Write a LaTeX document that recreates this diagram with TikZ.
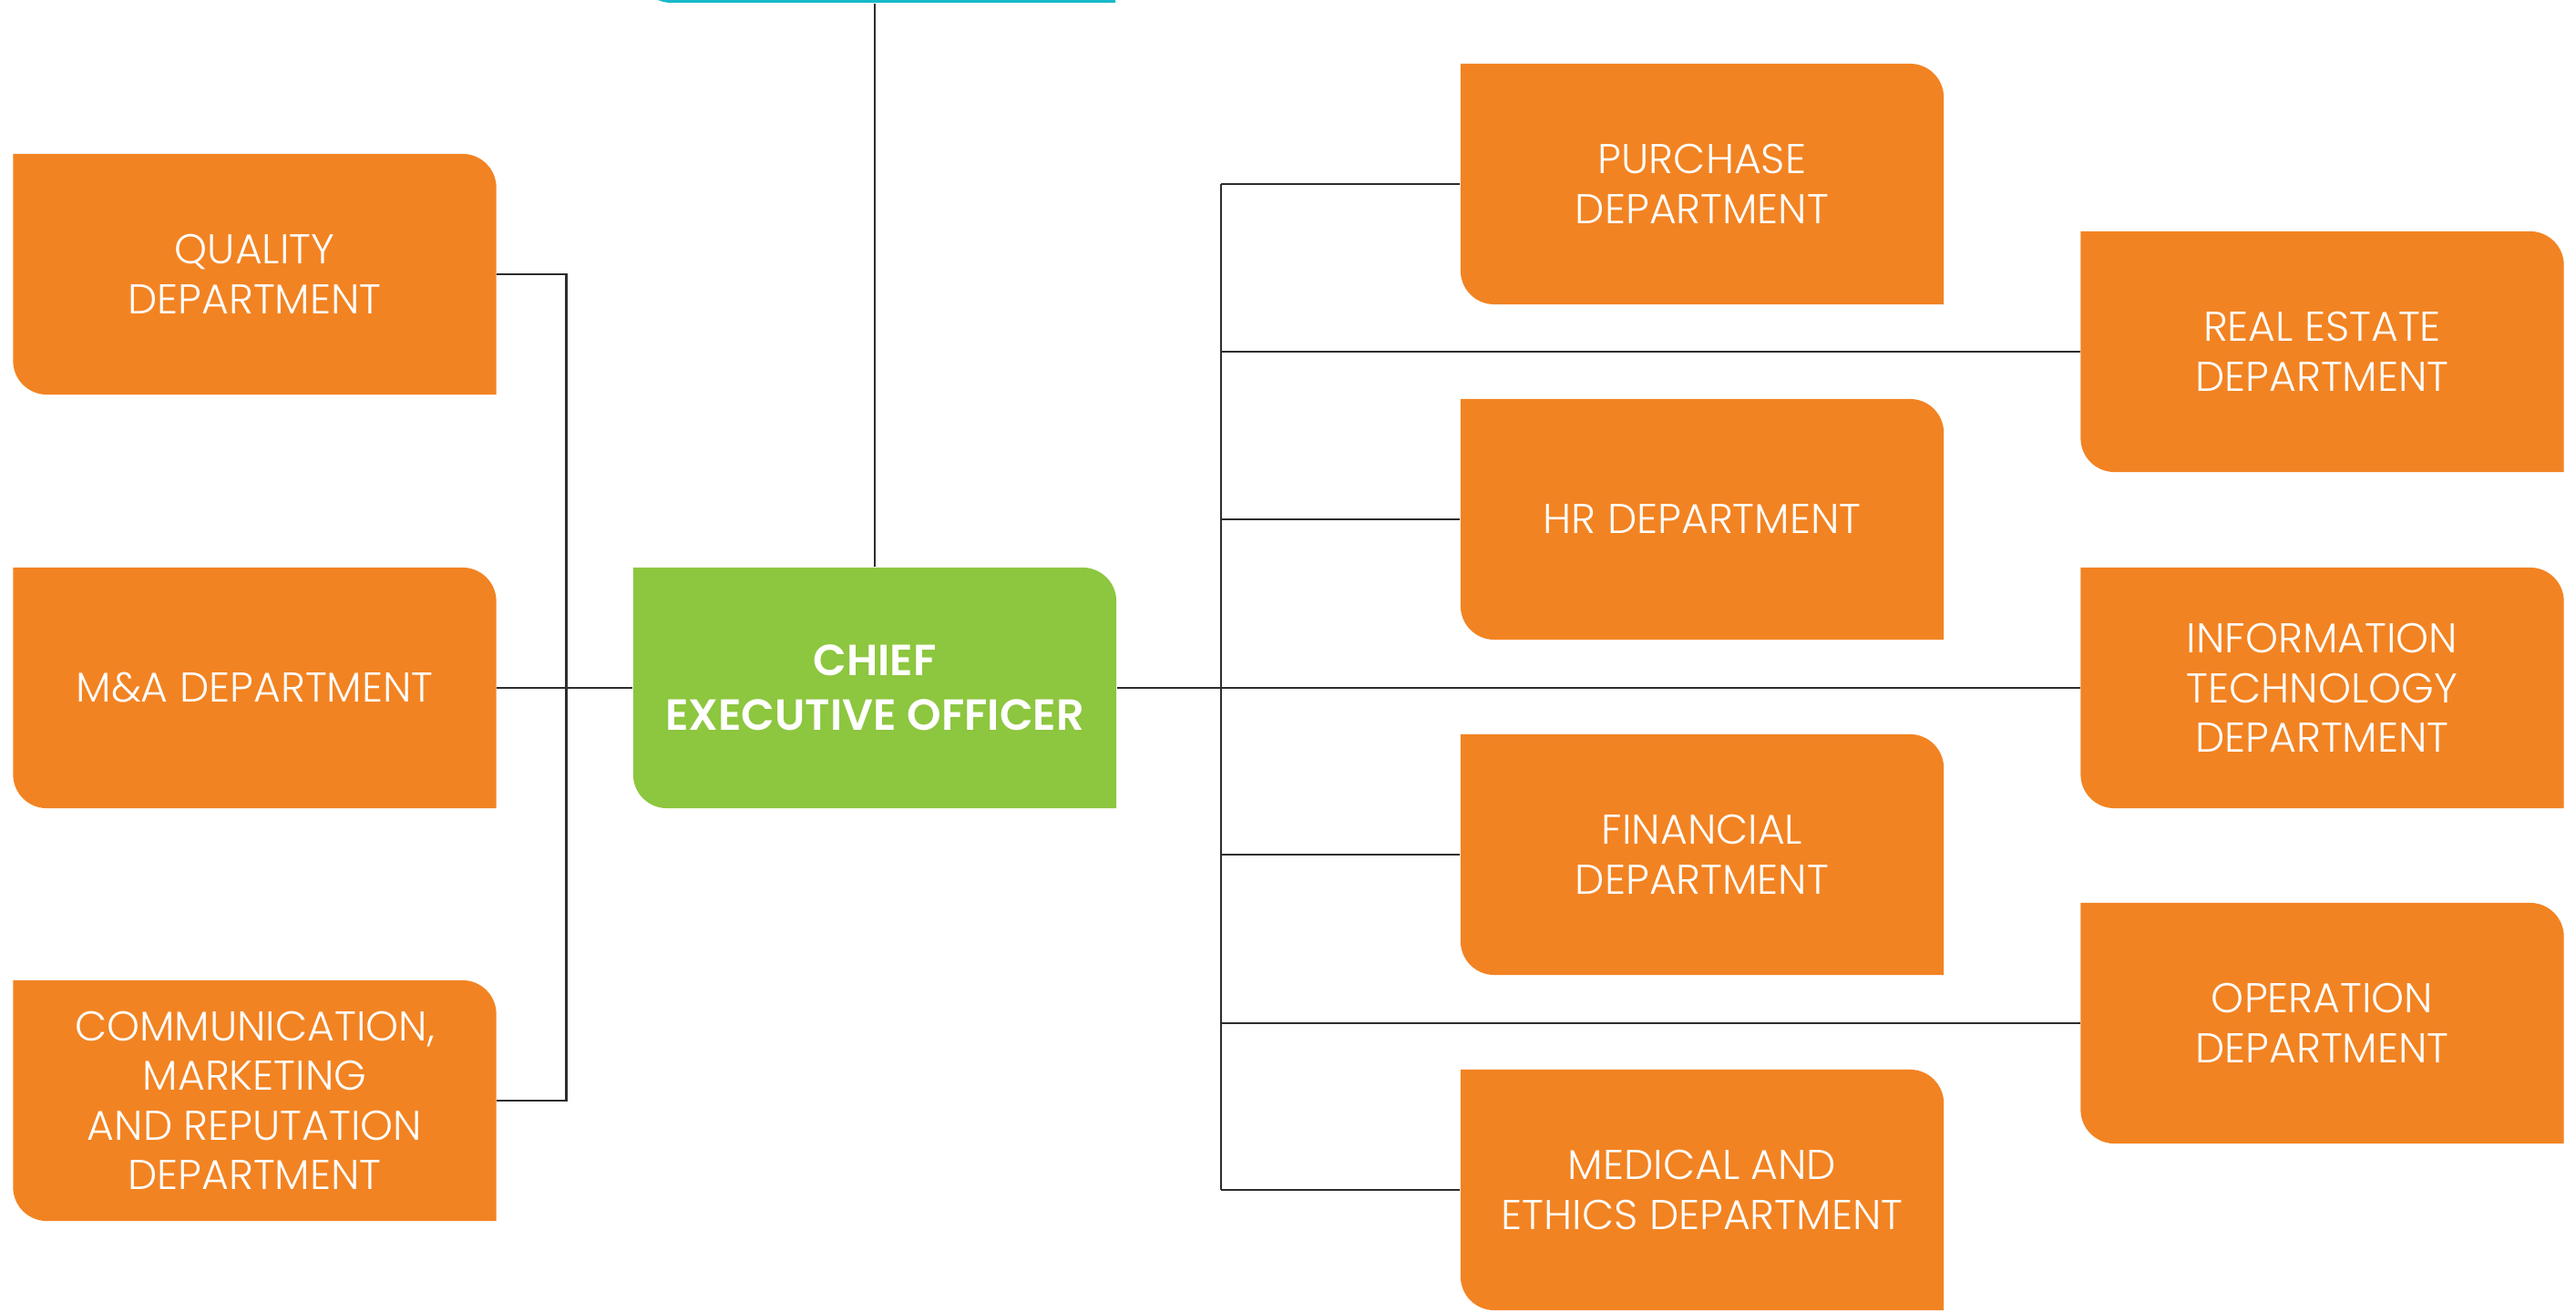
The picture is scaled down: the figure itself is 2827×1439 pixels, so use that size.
\documentclass[tikz,border=0pt]{standalone}
\usepackage{fontspec}
\setmainfont{Poppins}[UprightFont=* Light, BoldFont=* SemiBold]
\usetikzlibrary{calc, positioning}
\definecolor{deptorange}{RGB}{242,131,34}
\definecolor{ceogreen}{RGB}{141,198,63}
\definecolor{boardteal}{RGB}{22,186,200}
\definecolor{linegray}{RGB}{45,45,45}
\tikzset{
  cutbox/.style={rectangle, minimum width=5.3cm, minimum height=2.64cm, inner sep=0pt,
    align=center, text=white, font=\fontsize{13}{15.5}\selectfont,
    path picture={\fill[#1] (path picture bounding box.north west)
      -- ($(path picture bounding box.south west)+(0,0.37cm)$) arc[start angle=180, end angle=270, radius=0.37cm]
      -- (path picture bounding box.south east)
      -- ($(path picture bounding box.north east)-(0,0.37cm)$) arc[start angle=0, end angle=90, radius=0.37cm]
      -- cycle;}},
  dept/.style={cutbox=deptorange},
  ceo/.style={cutbox=ceogreen, font=\bfseries\fontsize{13.6}{17}\selectfont},
  link/.style={draw=linegray, line width=0.8pt}
}

\begin{document}
\begin{tikzpicture}[x=0.01cm, y=0.01cm]
  \useasboundingbox (0,0) rectangle (2827,1439);
  % board box cut off at the top
  \node[cutbox=boardteal, minimum width=5.24cm] (board) at (962,1568) {};
  \node[ceo] (ceo) at (960,684) {CHIEF\\EXECUTIVE OFFICER};
  % left column
  \node[dept] (quality) at (279.5,1138) {QUALITY\\DEPARTMENT};
  \node[dept] (ma) at (279.5,684) {M\&A DEPARTMENT};
  \node[dept] (comm) at (279.5,231) {COMMUNICATION,\\MARKETING\\AND REPUTATION\\DEPARTMENT};
  % middle column
  \node[dept] (purchase) at (1868,1237) {PURCHASE\\DEPARTMENT};
  \node[dept] (hr) at (1868,869) {HR DEPARTMENT};
  \node[dept] (financial) at (1868,501) {FINANCIAL\\DEPARTMENT};
  \node[dept] (medical) at (1868,133) {MEDICAL AND\\ETHICS DEPARTMENT};
  % right column
  \node[dept] (realestate) at (2548.5,1053) {REAL ESTATE\\DEPARTMENT};
  \node[dept] (it) at (2548.5,684) {INFORMATION\\TECHNOLOGY\\DEPARTMENT};
  \node[dept] (operation) at (2548.5,316) {OPERATION\\DEPARTMENT};
  % connectors
  \coordinate (rtrunk) at (1340,0);
  \draw[link] (ceo.north) -- (ceo.north |- board.south);
  \draw[link] (ceo.west) -- (ma.east);
  \draw[link] (quality.east) -| ($(comm.east)+(76,0)$) -- (comm.east);
  \draw[link] (ceo.east) -- (it.west);
  \draw[link] (rtrunk |- purchase.west) -- (rtrunk |- medical.west);
  \foreach \d in {purchase, realestate, hr, financial, operation, medical}
    \draw[link] (rtrunk |- \d.west) -- (\d.west);
\end{tikzpicture}
\end{document}
